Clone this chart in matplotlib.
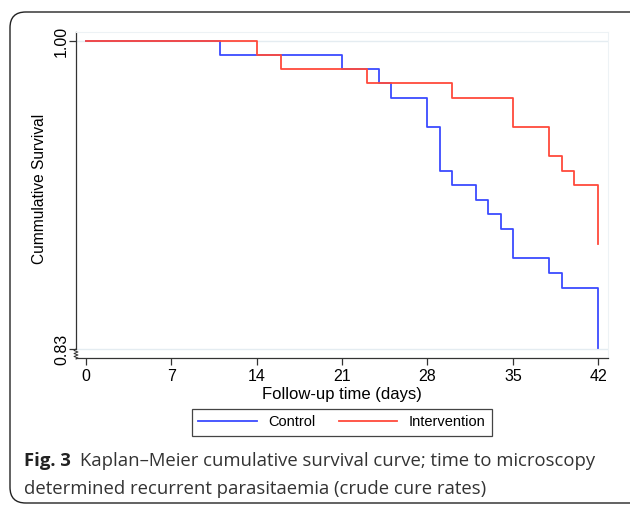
import matplotlib.pyplot as plt
from matplotlib.patches import FancyBboxPatch
from matplotlib.lines import Line2D

plt.rcParams["font.family"] = "sans-serif"
plt.rcParams["font.sans-serif"] = ["Liberation Sans", "DejaVu Sans"]

# Kaplan-Meier step values
control_t = [0, 11, 21, 24, 25, 28, 29, 30, 32, 33, 34, 35, 38, 39, 42]
control_s = [1.0, 0.9924, 0.9844, 0.9767, 0.9684, 0.9527, 0.9284, 0.9205,
             0.9122, 0.9044, 0.8961, 0.8801, 0.8718, 0.8638, 0.8304]
interv_t = [0, 14, 16, 23, 30, 35, 38, 39, 40, 42]
interv_s = [1.0, 0.9923, 0.9844, 0.9767, 0.9684, 0.9527, 0.9365, 0.9284,
            0.9205, 0.8878]

xticks = [0, 7, 14, 21, 28, 35, 42]
yticks = [0.83, 1.00]
ytick_labels = ["0.83", "1.00"]

W, H = 630, 505
fig = plt.figure(figsize=(W / 100, H / 100), dpi=100)
ax = fig.add_axes([76 / W, 1 - 358 / H, (608 - 76) / W, (358 - 32) / H])

blue = "#3b4bff"
red = "#ff4a3c"
ax.step(control_t, control_s, where="post", color=blue, lw=1.3, label="Control", zorder=3)
ax.step(interv_t, interv_s, where="post", color=red, lw=1.3, label="Intervention", zorder=4)

for yv in yticks:
    ax.axhline(yv, color="#e4ecf1", lw=1.0, zorder=1)

ax.set_xlim(-0.82, 42.8)
ax.set_ylim(0.825, 1.005)
ax.set_xticks(xticks, [str(v) for v in xticks], fontsize=11.5)
ax.set_yticks(yticks, ytick_labels, fontsize=11.5, rotation=90, va="center")
ax.tick_params(axis="both", length=5, width=0.9, color="#333333")
ax.tick_params(axis="x", pad=3)
ax.tick_params(axis="y", pad=0)

for side in ["top", "right"]:
    ax.spines[side].set_color("#edf2f5")
    ax.spines[side].set_linewidth(0.8)
ax.spines["left"].set_bounds(0.83, 1.005)
ax.spines["left"].set_color("#333333")
ax.spines["bottom"].set_color("#333333")
ax.spines["left"].set_linewidth(0.9)
ax.spines["bottom"].set_linewidth(0.9)

ax.set_xlabel("Follow-up time (days)", fontsize=12, labelpad=2)
ax.set_ylabel("Cummulative Survival", fontsize=11.2)
ax.yaxis.set_label_coords(-0.054, 0.518)

# axis break squiggle
zx = [76, 74, 78, 74, 78, 74, 78, 76]
zy = [349, 350.5, 352, 353.5, 355, 356.5, 358, 359]
fig.add_artist(Line2D([v / W for v in zx], [1 - v / H for v in zy],
                      color="#333333", lw=0.7, transform=fig.transFigure))

fig.legend(loc="center", bbox_to_anchor=(342 / W, 1 - 422.5 / H), ncol=2,
           fontsize=10.5, frameon=True, fancybox=False, edgecolor="#444444",
           framealpha=1, handlelength=4.0, columnspacing=1.6, handletextpad=0.8,
           borderpad=0.45)
leg = fig.legends[0]
leg.get_frame().set_linewidth(0.9)

# outer rounded border
border = FancyBboxPatch((10 / W, 1 - 503 / H), 1.1, 491 / H,
                        boxstyle="round,pad=0,rounding_size=0.025",
                        transform=fig.transFigure, fill=False,
                        edgecolor="#222222", lw=1.0, mutation_aspect=W / H)
fig.add_artist(border)

# caption
cap_font = ["Open Sans", "DejaVu Sans"]
t1 = fig.text(24 / W, 1 - 461 / H, "Fig. 3", fontsize=13.3, fontweight="bold",
              family=cap_font, va="center", color="#222222")
fig.canvas.draw()
bb = t1.get_window_extent()
fig.text(bb.x1 / W + 9 / W, 1 - 461 / H,
         "Kaplan\u2013Meier cumulative survival curve; time to microscopy",
         fontsize=13.3, family=cap_font, va="center", color="#333333")
fig.text(24 / W, 1 - 489 / H,
         "determined recurrent parasitaemia (crude cure rates)",
         fontsize=13.3, family=cap_font, va="center", color="#333333")

fig.savefig("out.png", dpi=100)
